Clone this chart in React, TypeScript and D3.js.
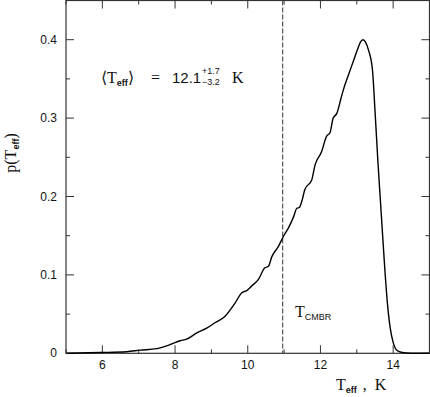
import React, { useEffect, useRef } from 'react';
import * as d3 from 'd3';

// temperature (K) and probability density
const temps = [5.02, 5.94, 6.67, 7.04, 7.5, 7.86, 8.14, 8.32, 8.6, 8.87, 9.1, 9.37, 9.65, 9.83, 9.97, 10.11, 10.29, 10.47, 10.57, 10.66, 10.84, 10.98, 11.12, 11.26, 11.35, 11.42, 11.5, 11.57, 11.76, 11.85, 12.03, 12.17, 12.26, 12.35, 12.45, 12.57, 12.63, 12.77, 12.9, 13.04, 13.1, 13.17, 13.24, 13.32, 13.43, 13.5, 13.58, 13.67, 13.76, 13.84, 13.92, 14.0, 14.1, 14.25, 14.5, 15.0];
const probs = [0, 0.001, 0.002, 0.004, 0.006, 0.011, 0.016, 0.018, 0.026, 0.032, 0.039, 0.047, 0.064, 0.077, 0.08, 0.086, 0.094, 0.109, 0.111, 0.123, 0.136, 0.149, 0.16, 0.174, 0.185, 0.186, 0.196, 0.209, 0.221, 0.24, 0.257, 0.277, 0.281, 0.3, 0.306, 0.326, 0.336, 0.355, 0.372, 0.39, 0.397, 0.4, 0.397, 0.387, 0.362, 0.31, 0.245, 0.18, 0.115, 0.065, 0.032, 0.014, 0.004, 0.001, 0, 0];

const xMajor = [6, 8, 10, 12, 14];
const xMinor = [5, 6, 7, 8, 9, 10, 11, 12, 13, 14, 15];
const yMajor = [0, 0.1, 0.2, 0.3, 0.4];
const yMinor = [0, 0.05, 0.1, 0.15, 0.2, 0.25, 0.3, 0.35, 0.4, 0.45];
const tCMBR = 10.96;

const App = () => {
  const svgRef = useRef(null);

  useEffect(() => {
    const width = 430, height = 397;
    const left = 66, right = 429.5, top = 0.5, bottom = 353.3;

    const svg = d3.select(svgRef.current);
    svg.selectAll('*').remove();
    svg.attr('width', width).attr('height', height).style('display', 'block').style('background', 'white');

    const x = d3.scaleLinear().domain([5, 15]).range([left, right]);
    const y = d3.scaleLinear().domain([0, 0.45]).range([bottom, top]);

    const axisColor = '#333';
    const g = svg.append('g');

    // frame
    g.append('rect')
      .attr('x', left).attr('y', top)
      .attr('width', right - left).attr('height', bottom - top)
      .attr('fill', 'none').attr('stroke', axisColor).attr('stroke-width', 1.2);

    // x ticks, bottom and top
    xMinor.forEach(v => {
      const len = xMajor.includes(v) ? 8 : 4;
      g.append('line').attr('x1', x(v)).attr('x2', x(v)).attr('y1', bottom).attr('y2', bottom - len)
        .attr('stroke', axisColor);
      g.append('line').attr('x1', x(v)).attr('x2', x(v)).attr('y1', top).attr('y2', top + len)
        .attr('stroke', axisColor);
    });
    // y ticks, left and right
    yMinor.forEach(v => {
      const len = yMajor.some(m => Math.abs(m - v) < 1e-9) ? 8 : 4;
      g.append('line').attr('x1', left).attr('x2', left + len).attr('y1', y(v)).attr('y2', y(v))
        .attr('stroke', axisColor);
      g.append('line').attr('x1', right).attr('x2', right - len).attr('y1', y(v)).attr('y2', y(v))
        .attr('stroke', axisColor);
    });

    const tickFont = '"Liberation Sans", Arial, sans-serif';
    g.selectAll('.xl').data(xMajor).enter().append('text')
      .attr('x', d => x(d)).attr('y', 369)
      .attr('text-anchor', 'middle')
      .style('font-family', tickFont).style('font-size', '12px').attr('fill', '#111')
      .text(d => d);
    g.selectAll('.yl').data(yMajor).enter().append('text')
      .attr('x', 57).attr('y', d => y(d) + 4)
      .attr('text-anchor', 'end')
      .style('font-family', tickFont).style('font-size', '12px').attr('fill', '#111')
      .text(d => (d === 0 ? '0' : d3.format('.1f')(d)));

    // dashed CMBR line
    g.append('line')
      .attr('x1', x(tCMBR)).attr('x2', x(tCMBR)).attr('y1', top).attr('y2', bottom)
      .attr('stroke', '#555').attr('stroke-width', 1.2).attr('stroke-dasharray', '5,2');

    // curve
    const pts = temps.map((t, i) => [t, probs[i]]);
    const line = d3.line().x(d => x(d[0])).y(d => y(d[1])).curve(d3.curveMonotoneX);
    g.append('path').datum(pts).attr('d', line)
      .attr('fill', 'none').attr('stroke', '#000').attr('stroke-width', 1.4);

    const serif = '"Liberation Serif", "Times New Roman", serif';

    // annotation <T_eff> = 12.1 +1.7 -3.2 K
    const ann = g.append('text').attr('x', 101).attr('y', 83)
      .style('font-family', serif).style('font-size', '16px').attr('fill', '#111');
    ann.append('tspan').text('\u27E8T');
    ann.append('tspan').attr('dy', 3).style('font-size', '9px').style('font-family', tickFont).style('font-weight', 'bold').text('eff');
    ann.append('tspan').attr('dy', -3).text('\u27E9');
    g.append('text').attr('x', 151).attr('y', 83)
      .style('font-family', serif).style('font-size', '16px').attr('fill', '#111').text('=');
    g.append('text').attr('x', 172).attr('y', 83)
      .style('font-family', tickFont).style('font-size', '15px').attr('fill', '#111').text('12.1');
    g.append('text').attr('x', 202).attr('y', 74)
      .style('font-family', tickFont).style('font-size', '9px').attr('fill', '#111').text('+1.7');
    g.append('text').attr('x', 202).attr('y', 85)
      .style('font-family', tickFont).style('font-size', '9px').attr('fill', '#111').text('\u22123.2');
    g.append('text').attr('x', 232).attr('y', 83)
      .style('font-family', serif).style('font-size', '16px').attr('fill', '#111').text('K');

    // T_CMBR label
    const tc = g.append('text').attr('x', 295).attr('y', 317)
      .style('font-family', serif).style('font-size', '16px').attr('fill', '#111');
    tc.append('tspan').text('T');
    tc.append('tspan').attr('dy', 3).style('font-size', '9px').style('font-family', tickFont).text('CMBR');

    // x axis title
    const xt = g.append('text').attr('x', 336).attr('y', 390)
      .style('font-family', serif).style('font-size', '16px').attr('fill', '#111');
    xt.append('tspan').text('T');
    xt.append('tspan').attr('dy', 3).style('font-size', '9px').style('font-family', tickFont).style('font-weight', 'bold').text('eff');
    xt.append('tspan').attr('dy', -3).attr('dx', 6).text(',');
    xt.append('tspan').attr('dx', 8).text('K');

    // y axis title
    const yt = g.append('text')
      .attr('transform', 'translate(16,153) rotate(-90)')
      .attr('text-anchor', 'middle')
      .style('font-family', serif).style('font-size', '16px').attr('fill', '#111');
    yt.append('tspan').text('p(T');
    yt.append('tspan').attr('dy', 3).style('font-size', '9px').style('font-family', tickFont).style('font-weight', 'bold').text('eff');
    yt.append('tspan').attr('dy', -3).text(')');
  }, []);

  return (
    <div style={{ position: 'absolute', left: 0, top: 0 }}>
      <svg ref={svgRef} />
    </div>
  );
};

export default App;
